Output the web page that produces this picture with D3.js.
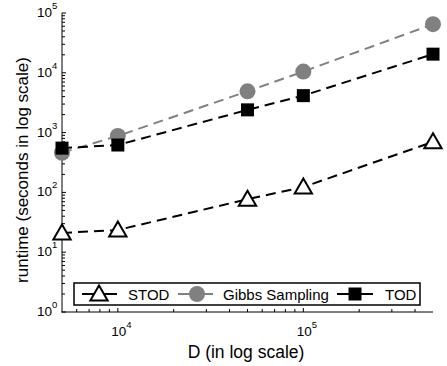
<!DOCTYPE html>
<html><head><meta charset="utf-8">
<script src="https://cdn.jsdelivr.net/npm/d3@7"></script>
<style>body{margin:0;background:#fff;} text{font-family:"Liberation Sans",Arial,sans-serif;}</style>
</head><body><svg id="c" width="447" height="366"></svg>
<script>
const dims = [5000, 10000, 50000, 100000, 500000];
const stod = [21, 23.5, 77, 123, 700];
const gibbs = [460, 880, 4900, 10500, 65000];
const tod = [550, 620, 2400, 4150, 20500];
const seriesNames = ["STOD", "Gibbs Sampling", "TOD"];
const xTicks = [1e4, 1e5];
const yTicks = [1, 10, 100, 1000, 10000, 100000];

const svg = d3.select("#c");
const x = d3.scaleLog().domain([5000, 500000]).range([62, 433]);
const y = d3.scaleLog().domain([1, 100000]).range([312, 13]);

const yMinor = [];
for (let e = 0; e < 5; e++) for (let k = 2; k <= 9; k++) yMinor.push(k * Math.pow(10, e));
const xMinor = [];
for (let e = 3; e < 6; e++) for (let k = 2; k <= 9; k++) { const v = k * Math.pow(10, e); if (v > 5000 && v < 500000) xMinor.push(v); }

const ax = svg.append("g").attr("stroke", "#000").attr("stroke-width", 1);
ax.append("line").attr("x1", 62).attr("x2", 62).attr("y1", 13).attr("y2", 312.5);
ax.append("line").attr("x1", 61.5).attr("x2", 433).attr("y1", 312).attr("y2", 312);
yMinor.forEach(v => ax.append("line").attr("x1", 62).attr("x2", 65).attr("y1", y(v)).attr("y2", y(v)));
yTicks.forEach(v => ax.append("line").attr("x1", 62).attr("x2", 66).attr("y1", y(v)).attr("y2", y(v)));
xMinor.forEach(v => ax.append("line").attr("x1", x(v)).attr("x2", x(v)).attr("y1", 312).attr("y2", 309));
xTicks.forEach(v => ax.append("line").attr("x1", x(v)).attr("x2", x(v)).attr("y1", 312).attr("y2", 308));

yTicks.forEach(v => {
  const e = Math.round(Math.log10(v));
  svg.append("text").attr("x", 52).attr("y", y(v) + 4).attr("text-anchor", "end").attr("font-size", 13.5).attr("fill", "#000").text("10");
  svg.append("text").attr("x", 52).attr("y", y(v) - 4).attr("font-size", 9.5).attr("fill", "#000").text(e);
});
xTicks.forEach(v => {
  const e = Math.round(Math.log10(v));
  svg.append("text").attr("x", x(v) + 1).attr("y", 336).attr("text-anchor", "middle").attr("font-size", 13.5).text("10");
  svg.append("text").attr("x", x(v) + 8.5).attr("y", 328).attr("font-size", 9.5).text(e);
});

svg.append("text").attr("x", 246).attr("y", 358).attr("text-anchor", "middle").attr("font-size", 17.5).text("D (in log scale)");
svg.append("text").attr("transform", "translate(28,170) rotate(-90)").attr("text-anchor", "middle").attr("font-size", 17).text("runtime (seconds in log scale)");

const line = d3.line().x(d => x(d[0])).y(d => y(d[1]));
const series = [
  {vals: stod, color: "#000", marker: "tri"},
  {vals: gibbs, color: "#808080", marker: "circ"},
  {vals: tod, color: "#000", marker: "sq"}
];
function marker(g, type, cx, cy, color) {
  if (type === "tri") {
    g.append("path").attr("d", d3.symbol().type(d3.symbolTriangle).size(130)()).attr("transform", `translate(${cx},${cy+1.5})`)
      .attr("fill", "#fff").attr("stroke", "#000").attr("stroke-width", 2);
  } else if (type === "circ") {
    g.append("circle").attr("cx", cx).attr("cy", cy).attr("r", 8).attr("fill", color);
  } else {
    g.append("rect").attr("x", cx - 6.5).attr("y", cy - 6.5).attr("width", 13).attr("height", 13).attr("fill", color);
  }
}
series.forEach(s => {
  const pts = dims.map((d, i) => [d, s.vals[i]]);
  svg.append("path").attr("d", line(pts)).attr("fill", "none").attr("stroke", s.color).attr("stroke-width", 2).attr("stroke-dasharray", "10,6");
  const g = svg.append("g");
  pts.forEach(p => marker(g, s.marker, x(p[0]), y(p[1]), s.color));
});

const lg = svg.append("g");
lg.append("rect").attr("x", 74).attr("y", 283).attr("width", 346).attr("height", 22).attr("fill", "#fff").attr("stroke", "#000").attr("stroke-width", 1.5);
const ly = 294;
const items = [
  {x1: 82, x2: 117, m: 99, tx: 128, s: series[0]},
  {x1: 178, x2: 213, m: 197, tx: 223, s: series[1]},
  {x1: 337, x2: 373, m: 355, tx: 385, s: series[2]}
];
items.forEach((it, i) => {
  lg.append("line").attr("x1", it.x1).attr("x2", it.x2).attr("y1", ly).attr("y2", ly).attr("stroke", it.s.color).attr("stroke-width", 2);
  marker(lg, it.s.marker, it.m, ly, it.s.color);
  lg.append("text").attr("x", it.tx).attr("y", ly + 5.5).attr("font-size", 15).text(seriesNames[i]);
});
</script></body></html>
